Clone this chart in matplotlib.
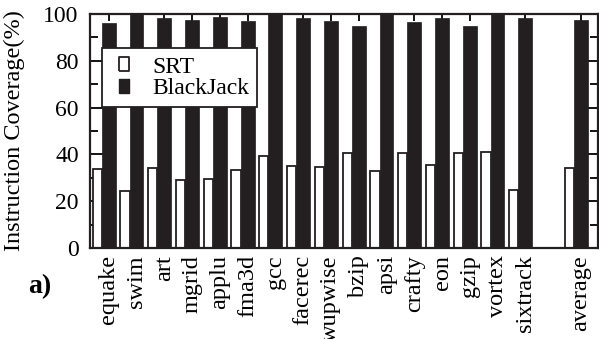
import numpy as np
import matplotlib
matplotlib.use('Agg')
import matplotlib.pyplot as plt
from matplotlib.ticker import MultipleLocator
from matplotlib.lines import Line2D

plt.rcParams['font.family'] = ['Liberation Serif', 'DejaVu Serif']

benchmarks = ['equake', 'swim', 'art', 'mgrid', 'applu', 'fma3d', 'gcc', 'facerec',
              'wupwise', 'bzip', 'apsi', 'crafty', 'eon', 'gzip', 'vortex', 'sixtrack',
              'average']
srt = [33.8, 24.4, 34.3, 29.1, 29.4, 33.3, 39.5, 35.2, 34.5, 40.5, 33.0, 40.7, 35.5,
       40.5, 41.2, 24.8, 34.1]
blackjack = [96.0, 100, 98.2, 97.4, 98.6, 97.1, 100, 98.2, 97.1, 95.0, 100, 96.4, 98.2,
             95.0, 100, 98.2, 97.4]

# one empty slot before "average"
pos = np.array(list(range(16)) + [17])

fig = plt.figure(figsize=(5.99, 3.39), dpi=100)
ax = fig.add_axes([0.150, 0.268, 0.848, 0.691])

dark = '#231f20'
ax.bar(pos - 0.58, srt, width=0.33, align='edge', color='white', edgecolor=dark,
       linewidth=1.3, zorder=2)
ax.bar(pos, blackjack, width=0.5, color=dark, edgecolor=dark, linewidth=0.5, zorder=3)

ax.set_xlim(-0.68, 17.61)
ax.set_ylim(0, 100)
ax.yaxis.set_major_locator(MultipleLocator(20))
ax.yaxis.set_minor_locator(MultipleLocator(10))
ax.set_xticks(pos)
ax.set_xticklabels(benchmarks, rotation=90, fontsize=17.5)
ax.tick_params(axis='y', which='major', direction='in', length=11, width=1.3,
               labelsize=17, right=True, pad=8)
ax.tick_params(axis='y', which='minor', direction='in', length=6, width=1.3, right=True)
ax.tick_params(axis='x', direction='in', length=5, width=1.3, top=True, pad=5)
for s in ax.spines.values():
    s.set_linewidth(1.6)
    s.set_color(dark)

ax.set_ylabel('Instruction Coverage(%)', fontsize=17.5)
ax.yaxis.set_label_coords(-0.128, 0.5)

# tall rectangle legend keys
box = [(-0.35, -0.5), (0.35, -0.5), (0.35, 0.5), (-0.35, 0.5), (-0.35, -0.5)]
handles = [Line2D([], [], linestyle='none', marker=box, markersize=10,
                  markerfacecolor='white', markeredgecolor=dark, markeredgewidth=1.3),
           Line2D([], [], linestyle='none', marker=box, markersize=10,
                  markerfacecolor=dark, markeredgecolor=dark, markeredgewidth=1.0)]
leg = ax.legend(handles, ['SRT', 'BlackJack'], loc='upper left',
                bbox_to_anchor=(0.024, 0.855), borderaxespad=0,
                fontsize=17, fancybox=False, framealpha=1, edgecolor=dark,
                handlelength=1.12, handletextpad=0.65,
                borderpad=0.35, labelspacing=0.0)
leg.get_frame().set_linewidth(1.3)
leg.set_zorder(5)

fig.text(0.066, 0.156, 'a)', fontsize=20, fontweight='bold', ha='center', va='center')

fig.savefig('out.png', dpi=100)
